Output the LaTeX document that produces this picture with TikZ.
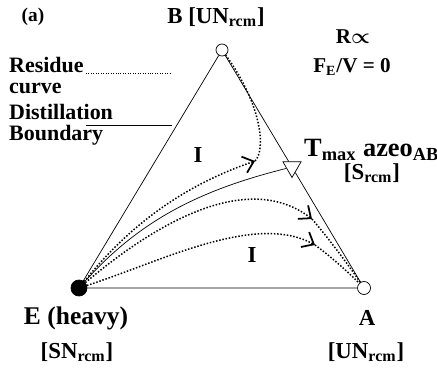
\documentclass[tikz,border=0pt]{standalone}
\usepackage{fontspec}
\setmainfont{Liberation Serif}
\usetikzlibrary{arrows.meta,shapes.geometric}

\begin{document}
\begin{tikzpicture}[x=0.2mm,y=-0.2mm,>=stealth,
  big/.style={font=\bfseries\fontsize{13}{15}\selectfont},
  mid/.style={font=\bfseries\fontsize{12}{14}\selectfont},
  small/.style={font=\bfseries\fontsize{12.5}{14}\selectfont},
  rcurve/.style={densely dotted,line width=0.85pt},
  flow/.style={rcurve,-{Straight Barb[length=2mm,width=3.4mm,line width=1pt]}}]
  \useasboundingbox (0,0) rectangle (437,385);
  % vertices of the triangle
  \node[circle,draw,fill=white,minimum size=2.4mm,inner sep=0] (B) at (222,50) {};
  \node[circle,draw,fill=black,minimum size=3.2mm,inner sep=0] (E) at (79,288) {};
  \node[circle,draw,fill=white,minimum size=2.6mm,inner sep=0] (A) at (364,288) {};
  \node[regular polygon,regular polygon sides=3,shape border rotate=180,draw,
        minimum size=4.2mm,inner sep=0] (T) at (292,167) {};
  \draw (E) -- (B) -- (T) -- (A) -- (E);
  % distillation boundary
  \draw (E) .. controls (140,220) and (200,190) .. (T);
  % residue curves
  \coordinate (c1) at (255,161);
  \coordinate (c2) at (312,219);
  \coordinate (c3) at (315,245);
  \draw[flow] (E) .. controls (140,212) and (200,180) .. (c1);
  \draw[rcurve] (c1) .. controls (266,150) and (262,105) .. (B);
  \draw[flow] (E) .. controls (150,228) and (245,168) .. (c2);
  \draw[rcurve] (c2) .. controls (330,240) and (352,270) .. (A);
  \draw[flow] (E) .. controls (160,262) and (255,212) .. (c3);
  \draw[rcurve] (c3) .. controls (333,258) and (352,276) .. (A);
  % labels
  \node[mid,font=\bfseries\fontsize{11}{13}\selectfont] (lbla) at (33,17) {(a)};
  \node[big] (lblB) at (216,17) {B [UN\textsubscript{rcm}]};
  \node[mid] (lblR) at (353,37) {R{\boldmath$\propto$}};
  \node[mid] (lblF) at (352,67) {F\textsubscript{E}/V = 0};
  \node[big,font=\bfseries\fontsize{15}{17}\selectfont,anchor=west] (lblT) at (298,150) {T\textsubscript{max} azeo\textsubscript{AB}};
  \node[big] (lblS) at (372,173) {[S\textsubscript{rcm}]};
  \node[big,font=\bfseries\fontsize{14.5}{16}\selectfont] (lblE) at (76,318) {E (heavy)};
  \node[big] (lblSN) at (77,352) {[SN\textsubscript{rcm}]};
  \node[big] (lblA) at (367,318) {A};
  \node[big] (lblUN) at (366,352) {[UN\textsubscript{rcm}]};
  \node[big] (reg1) at (198,155) {I};
  \node[big] (reg2) at (252,255) {I};
  % legend
  \node[small,anchor=west] (res) at (3,65) {Residue};
  \node[small,anchor=west] (cur) at (3,88) {curve};
  \node[small,anchor=west] (dist) at (3,112) {Distillation};
  \node[small,anchor=west] (bnd) at (3,135) {Boundary};
  \coordinate (rcStart) at (86,73);
  \coordinate (rcEnd) at (172,73);
  \coordinate (dbStart) at (86,125);
  \coordinate (dbEnd) at (172,125);
  \draw[densely dotted] (rcStart) -- (rcEnd);
  \draw (dbStart) -- (dbEnd);
\end{tikzpicture}
\end{document}
